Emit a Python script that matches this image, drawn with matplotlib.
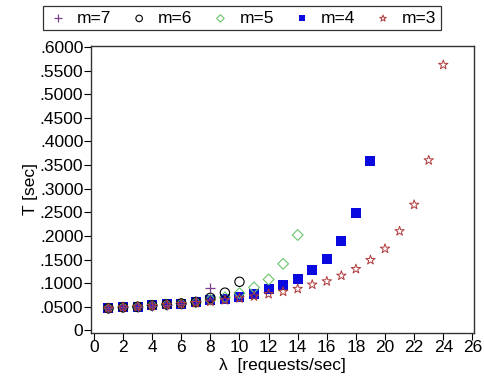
import matplotlib
matplotlib.use("Agg")
import matplotlib.pyplot as plt
from matplotlib.ticker import FuncFormatter
import numpy as np

plt.rcParams['font.family'] = ['Liberation Sans', 'DejaVu Sans']

# response time T [sec] vs arrival rate, per number of servers m
lam7 = [1, 2, 3, 4, 5, 6, 7, 8]
t7 = [0.047, 0.049, 0.050, 0.052, 0.054, 0.057, 0.063, 0.089]

lam6 = [1, 2, 3, 4, 5, 6, 7, 8, 9, 10]
t6 = [0.047, 0.049, 0.050, 0.053, 0.055, 0.057, 0.060, 0.069, 0.080, 0.103]

lam5 = [1, 2, 3, 4, 5, 6, 7, 8, 9, 10, 11, 12, 13, 14]
t5 = [0.047, 0.049, 0.050, 0.053, 0.055, 0.057, 0.060, 0.065, 0.070, 0.079, 0.091, 0.108, 0.141, 0.202]

lam4 = list(range(1, 20))
t4 = [0.047, 0.049, 0.050, 0.053, 0.055, 0.057, 0.060, 0.064, 0.067, 0.071,
      0.078, 0.087, 0.097, 0.109, 0.128, 0.152, 0.189, 0.248, 0.358]

lam3 = list(range(1, 25))
t3 = [0.047, 0.049, 0.050, 0.052, 0.054, 0.056, 0.058, 0.061, 0.064, 0.068,
      0.072, 0.077, 0.082, 0.088, 0.097, 0.104, 0.116, 0.130, 0.149, 0.173,
      0.210, 0.266, 0.360, 0.562]

xticks = np.arange(0, 27, 2)
yticks = np.arange(0, 0.6001, 0.05)

fig = plt.figure(figsize=(4.84, 3.83), dpi=100)
ax = fig.add_axes([0.188, 0.131, 0.791, 0.749])

h7 = ax.scatter(lam7, t7, marker='+', s=60, color='#7b3f8c', linewidths=0.9, zorder=5)
h6 = ax.scatter(lam6, t6, marker='o', s=45, facecolors='none', edgecolors='black', linewidths=0.8, zorder=4)
h5 = ax.scatter(lam5, t5, marker='D', s=30, facecolors='none', edgecolors='#6cc46c', linewidths=0.8, zorder=3)
h4 = ax.scatter(lam4, t4, marker='s', s=42, color='#0a0ae0', linewidths=0, zorder=2)
h3 = ax.scatter(lam3, t3, marker='*', s=50, facecolors='none', edgecolors='#b03a3a', linewidths=0.7, zorder=6)

ax.set_xlim(-0.2, 26.1)
ax.set_ylim(-0.005, 0.602)
ax.set_xticks(xticks)
ax.set_yticks(yticks)

def fmt(v, pos):
    if abs(v) < 1e-9:
        return "0"
    return ("%.4f" % v).lstrip("0")

ax.yaxis.set_major_formatter(FuncFormatter(fmt))
ax.tick_params(direction='out', length=5, width=0.8, labelsize=12.5, pad=0.5)
for sp in ax.spines.values():
    sp.set_linewidth(1.0)
    sp.set_color('#333333')

ax.set_xlabel("λ  [requests/sec]", fontsize=12.5, labelpad=2)
ax.set_ylabel("T [sec]", fontsize=12.5, labelpad=1)

leg = fig.legend([h7, h6, h5, h4, h3], ["m=7", "m=6", "m=5", "m=4", "m=3"],
                 loc='center', bbox_to_anchor=(0.5, 0.952), ncol=5, fontsize=12.5,
                 frameon=True, fancybox=False, edgecolor='black', handletextpad=0.5,
                 columnspacing=1.0, borderpad=0.25, handlelength=1.2, markerscale=0.7)
leg.get_frame().set_linewidth(0.9)

fig.savefig("out.png", dpi=100)
